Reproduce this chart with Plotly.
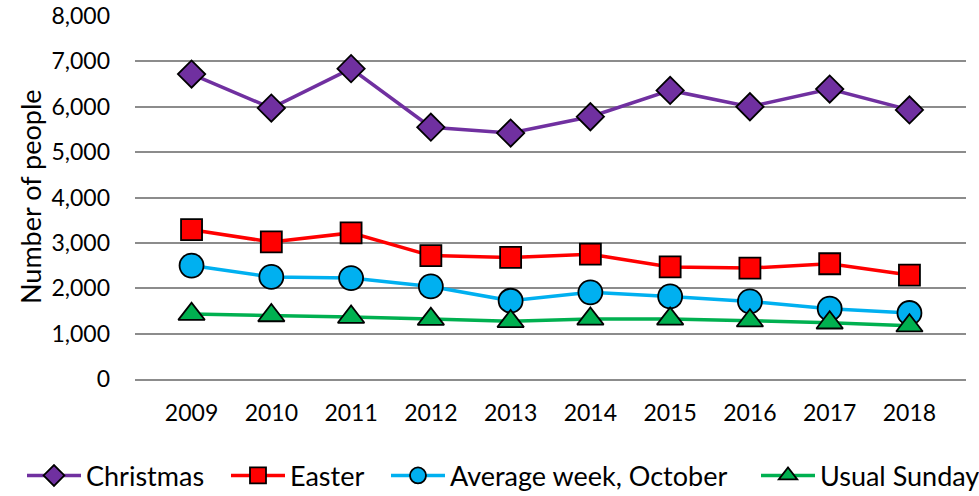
import plotly.graph_objects as go

years = ["2009", "2010", "2011", "2012", "2013", "2014", "2015", "2016", "2017", "2018"]
christmas = [6720, 5970, 6840, 5550, 5420, 5780, 6360, 6000, 6390, 5930]
easter = [3290, 3020, 3220, 2720, 2680, 2750, 2470, 2445, 2540, 2290]
average_week = [2500, 2250, 2225, 2040, 1725, 1910, 1820, 1710, 1550, 1455]
usual_sunday = [1430, 1400, 1365, 1320, 1270, 1325, 1325, 1285, 1240, 1175]
y_title = "Number of people"

series = [
    ("Christmas", christmas, "#7030A0", "diamond", 21),
    ("Easter", easter, "#FF0000", "square", 21),
    ("Average week, October", average_week, "#00B0F0", "circle", 24),
    ("Usual Sunday", usual_sunday, "#00B050", "triangle-up", 23),
]
# left edge (px) of each legend entry along the bottom
legend_left = [22, 226, 386, 756]

FONT = "Lato"

fig = go.Figure()
layout_legends = {}
for i, (name, vals, color, sym, size) in enumerate(series):
    key = "legend" if i == 0 else f"legend{i+1}"
    fig.add_trace(go.Scatter(
        x=years, y=vals, name=name, mode="lines+markers", legend=key,
        line=dict(color=color, width=3.5),
        marker=dict(symbol=sym, size=size, color=color,
                    line=dict(color="black", width=1.8)),
    ))
    layout_legends[key] = dict(
        orientation="h", xref="container", x=legend_left[i] / 979, xanchor="left",
        yref="paper", y=-0.267, yanchor="middle",
        itemwidth=54, font=dict(size=27, family=FONT, color="black"),
        bgcolor="rgba(0,0,0,0)",
    )

fig.update_layout(
    width=979, height=496,
    margin=dict(l=135, r=13, t=16, b=117, autoexpand=False),
    paper_bgcolor="white", plot_bgcolor="white",
    font=dict(family=FONT, size=23, color="black"),
    showlegend=True,
    **layout_legends,
)
fig.add_annotation(text=y_title, xref="paper", yref="paper",
                   x=-0.1264, y=0.504, xanchor="center", yanchor="middle",
                   textangle=-90, showarrow=False,
                   font=dict(size=27, family=FONT, color="black"))
fig.update_xaxes(type="category", showgrid=False, showline=True,
                 linecolor="#8c8c8c", linewidth=2, ticks="", automargin=False,
                 ticklabelstandoff=12, tickfont=dict(size=23))
fig.update_yaxes(range=[0, 8000], dtick=1000, tickformat=",",
                 showgrid=True, gridcolor="#8c8c8c", gridwidth=2, automargin=False,
                 zeroline=False, showline=False, ticks="",
                 ticklabelstandoff=24, tickfont=dict(size=23))

fig.write_html("out.html", post_script="document.body.style.margin='0';",
               config={"displayModeBar": False})
